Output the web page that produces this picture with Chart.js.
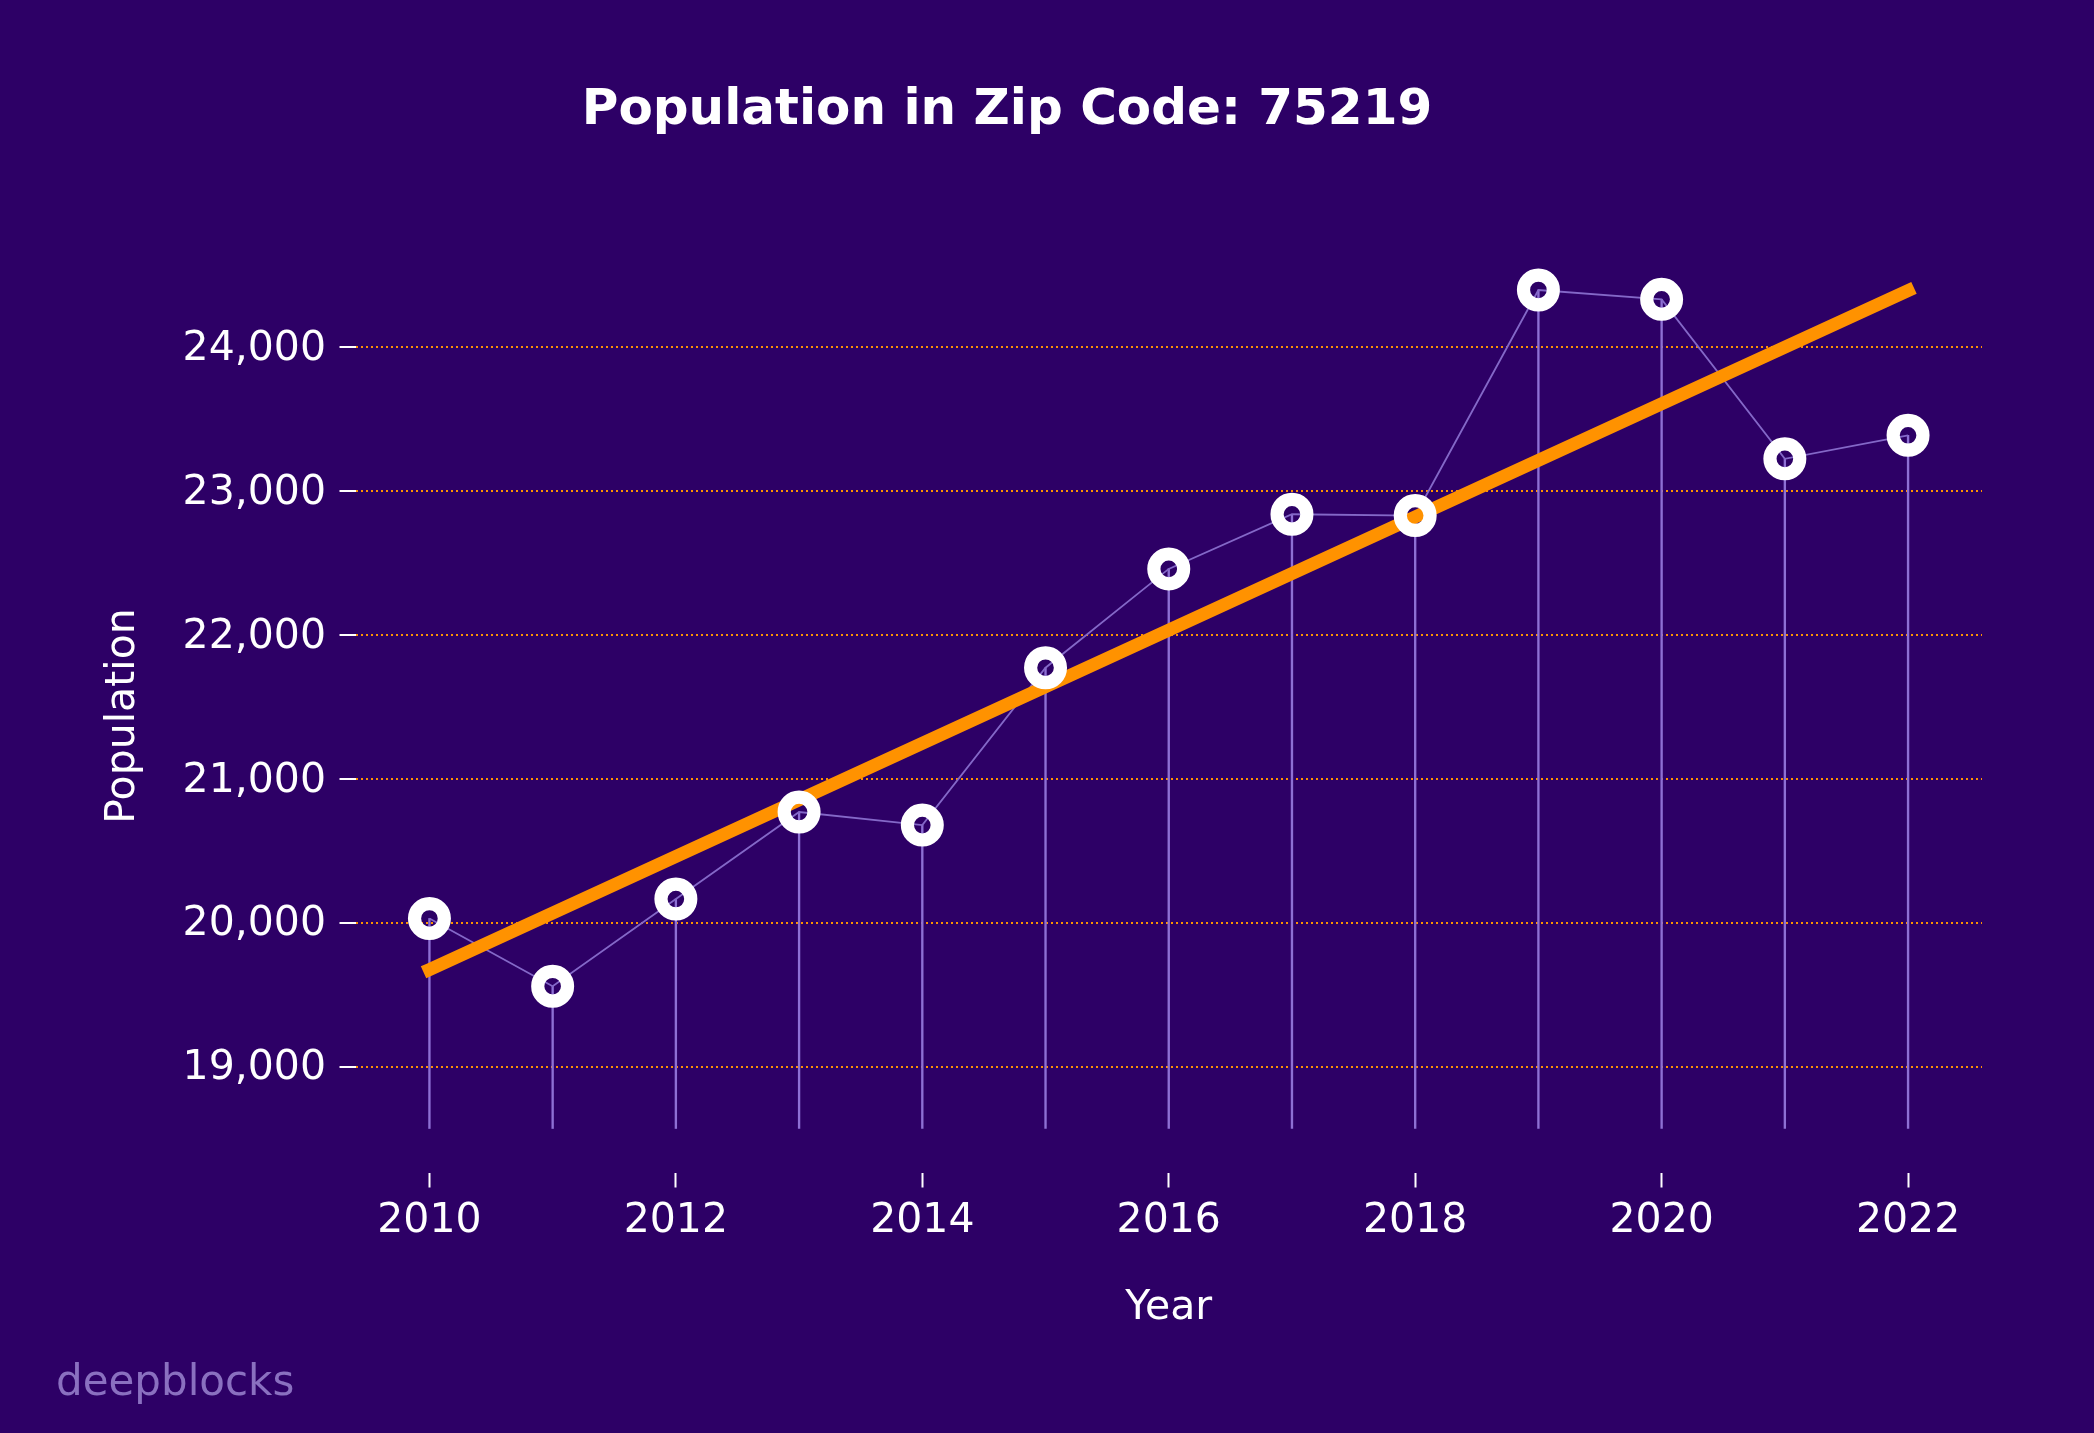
<!DOCTYPE html>
<html><head><meta charset="utf-8">
<script src="https://cdn.jsdelivr.net/npm/chart.js@4.4.0/dist/chart.umd.min.js"></script>
<style>html,body{margin:0;padding:0;background:#2d0066;} canvas{display:block;}</style>
</head><body>
<canvas id="c" width="2094" height="1433" style="width:2094px;height:1433px"></canvas>
<script>
const years = [2010, 2011, 2012, 2013, 2014, 2015, 2016, 2017, 2018, 2019, 2020, 2021, 2022];
const population = [20030, 19559, 20165, 20770, 20679, 21773, 22460, 22840, 22831, 24399, 24334, 23225, 23389];
const trendYears = [2010, 2022];
const trendValues = [19675, 24395];
const xTickValues = [2010, 2012, 2014, 2016, 2018, 2020, 2022];
const yTickValues = [19000, 20000, 21000, 22000, 23000, 24000];
const yAxisMin = 18570;
const yAxisMax = 24305;
const titleText = 'Population in Zip Code: 75219';
const xTitleText = 'Year';
const yTitleText = 'Population';
const watermarkText = 'deepblocks';

const FONT = "'DejaVu Sans'";
const ORANGE = '#ff9200';
const LAV = '#8e70d4';

const points = years.map((y, i) => ({x: y, y: population[i]}));
const trendPoints = trendYears.map((y, i) => ({x: y, y: trendValues[i]}));

const watermarkPlugin = {
  id: 'watermark',
  afterDraw(chart) {
    const ctx = chart.ctx;
    ctx.save();
    ctx.font = `42px ${FONT}`;
    ctx.fillStyle = '#8a70c0';
    ctx.textAlign = 'left';
    ctx.textBaseline = 'alphabetic';
    ctx.fillText(watermarkText, 56, 1395);
    ctx.restore();
  }
};

new Chart(document.getElementById('c'), {
  type: 'line',
  data: {
    datasets: [
      {type: 'bar', data: points, base: yAxisMin, backgroundColor: LAV, borderWidth: 0, barThickness: 1.7, order: 4, clip: false},
      {type: 'line', data: points, borderColor: '#8468c8', borderWidth: 1.8, pointRadius: 0, order: 3, clip: false},
      {type: 'line', data: trendPoints, borderColor: ORANGE, borderWidth: 13, borderCapStyle: 'square', pointRadius: 0, order: 2, clip: false},
      {type: 'line', data: points, showLine: false, pointRadius: 14.9, pointBorderWidth: 13.2, pointBorderColor: '#ffffff', pointBackgroundColor: 'rgba(0,0,0,0)', pointHoverRadius: 14.9, order: 1, clip: false}
    ]
  },
  options: {
    responsive: false,
    animation: false,
    devicePixelRatio: 1,
    layout: {padding: {left: 32, right: 112, top: 0, bottom: 0}},
    plugins: {
      legend: {display: false},
      tooltip: {enabled: false},
      title: {
        display: true, text: titleText, color: '#ffffff',
        font: {family: FONT, size: 50, weight: 'bold', lineHeight: 1.2},
        padding: {top: 80.7, bottom: 162.8}
      }
    },
    scales: {
      x: {
        type: 'linear', min: 2009.4, max: 2022.6, offset: false,
        afterBuildTicks: (s) => { s.ticks = xTickValues.map(v => ({value: v})); },
        afterFit: (s) => { s.height = 304.5; },
        ticks: {color: '#ffffff', font: {family: FONT, size: 41}, padding: 9.5, maxRotation: 0, autoSkip: false,
          callback: (v) => String(v)},
        grid: {offset: false, drawOnChartArea: false, drawTicks: true, tickLength: 59, tickColor: '#ffffff', tickWidth: 2,
          tickBorderDash: [0, 44, 15, 400]},
        border: {display: false},
        title: {display: true, text: xTitleText, color: '#ffffff', font: {family: FONT, size: 41, lineHeight: 1.2},
          padding: {top: 0, bottom: 99.6}}
      },
      y: {
        type: 'linear', min: yAxisMin, max: yAxisMax, beginAtZero: false,
        afterBuildTicks: (s) => { s.ticks = yTickValues.map(v => ({value: v})); },
        afterFit: (s) => { s.width = 323.5; },
        ticks: {color: '#ffffff', font: {family: FONT, size: 41}, padding: 13.5, labelOffset: 2,
          callback: (v) => Number(v).toLocaleString('en-US')},
        grid: {offset: false, color: ORANGE, lineWidth: 2, drawTicks: true, tickLength: 16, tickColor: '#ffffff', tickWidth: 2,
          tickBorderDash: []},
        border: {display: false, dash: [2, 3]},
        title: {display: true, text: yTitleText, color: '#ffffff', font: {family: FONT, size: 41, lineHeight: 1.2},
          padding: {top: 67, bottom: 0}}
      }
    }
  },
  plugins: [watermarkPlugin]
});
</script>
</body></html>
